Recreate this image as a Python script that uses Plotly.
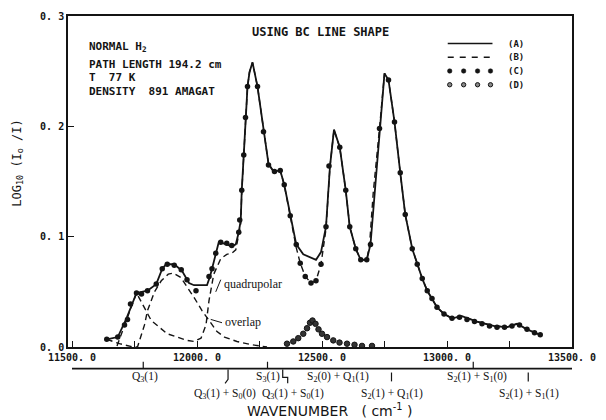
import plotly.graph_objects as go

# ---------------- data ----------------
wn_a = [11639, 11683, 11718, 11758, 11802, 11837, 11861, 11877, 11909, 11940, 11968, 11988,
        12040, 12052, 12067, 12087, 12119, 12139, 12155, 12167, 12175, 12179, 12187, 12194,
        12202, 12210, 12222, 12242, 12266, 12286, 12306, 12333, 12349, 12373, 12397, 12425,
        12476, 12496, 12516, 12532, 12548, 12571, 12595, 12611, 12635, 12655, 12679, 12694,
        12710, 12730, 12750, 12766, 12790, 12813, 12833, 12861, 12881, 12901, 12921, 12940,
        12960, 12988, 13020, 13060, 13120, 13190, 13240, 13280, 13320, 13373]
val_a = [0.007, 0.009, 0.026, 0.049, 0.051, 0.057, 0.071, 0.075, 0.075, 0.069, 0.058, 0.056,
         0.056, 0.064, 0.077, 0.095, 0.093, 0.091, 0.093, 0.104, 0.115, 0.142, 0.174, 0.208,
         0.236, 0.249, 0.258, 0.236, 0.195, 0.166, 0.159, 0.160, 0.147, 0.119, 0.093, 0.084,
         0.079, 0.086, 0.109, 0.164, 0.197, 0.181, 0.142, 0.109, 0.089, 0.079, 0.079, 0.093,
         0.137, 0.198, 0.248, 0.242, 0.204, 0.158, 0.120, 0.089, 0.075, 0.062, 0.051, 0.044,
         0.036, 0.030, 0.026, 0.028, 0.023, 0.019, 0.018, 0.021, 0.016, 0.011]

# (B) quadrupolar contribution
wn_b = [11680, 11718, 11758, 11817, 11881, 11960, 11988, 12016, 12036, 12048, 12067, 12095,
        12119, 12139, 12155, 12167, 12175, 12179, 12187, 12194, 12202, 12210, 12222, 12242,
        12266, 12286, 12306, 12333, 12349, 12373, 12397, 12413, 12433, 12456, 12476, 12496,
        12516, 12532, 12548, 12571, 12595, 12611, 12635, 12655, 12679, 12690, 12705, 12730,
        12750, 12766, 12790, 12813, 12833, 12861, 12881, 12901, 12921, 12940, 12960, 12988,
        13020, 13060, 13120, 13190, 13240, 13280, 13320, 13373]
val_b = [0.001, 0.024, 0.049, 0.024, 0.012, 0.006, 0.005, 0.008, 0.020, 0.042, 0.066, 0.080,
         0.084, 0.085, 0.088, 0.102, 0.112, 0.140, 0.174, 0.208, 0.236, 0.249, 0.258, 0.236,
         0.195, 0.166, 0.159, 0.160, 0.147, 0.119, 0.090, 0.076, 0.064, 0.058, 0.060, 0.075,
         0.107, 0.164, 0.197, 0.181, 0.142, 0.109, 0.089, 0.079, 0.079, 0.092, 0.140, 0.198,
         0.248, 0.242, 0.204, 0.158, 0.120, 0.089, 0.075, 0.062, 0.051, 0.044, 0.036, 0.030,
         0.026, 0.028, 0.023, 0.019, 0.018, 0.021, 0.016, 0.011]

# overlap contribution (dashed)
wn_o = [11639, 11690, 11745, 11762, 11790, 11802, 11830, 11857, 11885, 11905, 11935, 11965,
        11988, 12020, 12048, 12080, 12110, 12160, 12220, 12280]
val_o = [0.007, 0.003, 0.000, 0.000, 0.020, 0.033, 0.050, 0.060, 0.066, 0.067, 0.063, 0.053,
         0.045, 0.033, 0.024, 0.014, 0.009, 0.005, 0.002, 0.000]

# (C) filled points
wn_c = [11639, 11683, 11710, 11722, 11734, 11758, 11778, 11802, 11837, 11861, 11881, 11909,
        11937, 11960, 11996, 12048, 12060, 12075, 12095, 12119, 12139, 12167, 12171, 12179,
        12187, 12194, 12202, 12242, 12266, 12286, 12310, 12333, 12349, 12373, 12397, 12413,
        12433, 12456, 12476, 12496, 12516, 12528, 12571, 12595, 12611, 12635, 12655, 12679,
        12694, 12730, 12766, 12790, 12813, 12833, 12861, 12881, 12901, 12921, 12940, 12960,
        12988, 13020, 13050, 13080, 13110, 13140, 13170, 13200, 13230, 13260, 13290, 13320,
        13350, 13373]
val_c = [0.007, 0.009, 0.020, 0.025, 0.039, 0.049, 0.048, 0.051, 0.057, 0.071, 0.075, 0.074,
         0.070, 0.061, 0.051, 0.064, 0.071, 0.085, 0.095, 0.094, 0.092, 0.104, 0.115, 0.142,
         0.174, 0.208, 0.236, 0.236, 0.195, 0.165, 0.159, 0.160, 0.147, 0.119, 0.093, 0.076,
         0.064, 0.058, 0.060, 0.075, 0.109, 0.164, 0.181, 0.142, 0.109, 0.089, 0.079, 0.079,
         0.093, 0.198, 0.242, 0.204, 0.158, 0.120, 0.089, 0.075, 0.062, 0.051, 0.044, 0.036,
         0.030, 0.026, 0.027, 0.025, 0.023, 0.021, 0.019, 0.018, 0.018, 0.019, 0.020, 0.016,
         0.013, 0.011]

# (D) open points (small band near 12460)
wn_d = [12360, 12385, 12405, 12425, 12440, 12452, 12462, 12474, 12486, 12500, 12520, 12545,
        12570, 12600, 12630, 12660, 12700]
val_d = [0.003, 0.005, 0.008, 0.012, 0.017, 0.022, 0.024, 0.021, 0.016, 0.012, 0.009, 0.006,
         0.004, 0.003, 0.002, 0.001, 0.001]

y_ticks = [0.0, 0.1, 0.2, 0.3]
y_ticktext = ["0. 0", "0. 1", "0. 2", "0. 3"]
x_ticks = [11500, 11750, 12000, 12250, 12500, 12750, 13000, 13250, 13500]
x_ticktext = ["11500. 0", "", "12000. 0", "", "12500. 0", "", "13000. 0", "", "13500. 0"]

# transitions: (label, wavenumber of label, row)
trans_labels = [
    ("Q<sub>3</sub>(1)", 11790, 1),
    ("S<sub>3</sub>(1)", 12282, 1),
    ("S<sub>2</sub>(0) + Q<sub>1</sub>(1)", 12563, 1),
    ("S<sub>2</sub>(1) + S<sub>1</sub>(0)", 13119, 1),
    ("Q<sub>3</sub>(1) + S<sub>0</sub>(0)", 12110, 2),
    ("Q<sub>3</sub>(1) + S<sub>0</sub>(1)", 12385, 2),
    ("S<sub>2</sub>(1) + Q<sub>1</sub>(1)", 12778, 2),
    ("S<sub>2</sub>(1) + S<sub>1</sub>(1)", 13329, 2),
]
up_ticks = [11785, 12282, 13105]
down_ticks = [12778, 13325]

INK = "#141414"
PLOT_FONT = "DejaVu Sans Mono"
SANS = "DejaVu Sans"
SERIF = "Liberation Serif"

fig = go.Figure()
fig.add_trace(go.Scatter(x=wn_o, y=val_o, mode="lines",
                         line=dict(color=INK, width=1.4, dash="6px,4px"), showlegend=False))
fig.add_trace(go.Scatter(x=wn_b, y=val_b, mode="lines",
                         line=dict(color=INK, width=1.4, dash="6px,4px"), showlegend=False))
fig.add_trace(go.Scatter(x=wn_a, y=val_a, mode="lines",
                         line=dict(color=INK, width=1.8), showlegend=False))
fig.add_trace(go.Scatter(x=wn_c, y=val_c, mode="markers",
                         marker=dict(color=INK, size=5.5), showlegend=False))
fig.add_trace(go.Scatter(x=wn_d, y=val_d, mode="markers",
                         marker=dict(color="#333", size=5.5, line=dict(color=INK, width=1)),
                         showlegend=False))

L, R, T, B = 68, 31, 10, 73
W, H = 606, 420
PW, PH = W - L - R, H - T - B


def px(xp):
    return (xp - L) / PW


def py(yp):
    return (H - B - yp) / PH


ann = []
shapes = []

# header texts
info = [("NORMAL H<sub>2</sub>", 42), ("PATH LENGTH 194.2 cm", 59),
        ("T\u00a0\u00a077 K", 73), ("DENSITY\u00a0\u00a0891 AMAGAT", 87)]
for txt, yp in info:
    ann.append(dict(text=txt, x=px(87), y=py(yp), xref="paper", yref="paper",
                    xanchor="left", yanchor="middle", showarrow=False,
                    font=dict(family=PLOT_FONT, size=11, color=INK, weight="bold")))
ann.append(dict(text="USING BC LINE SHAPE", x=px(322), y=py(26), xref="paper", yref="paper",
                xanchor="center", yanchor="middle", showarrow=False,
                font=dict(family=PLOT_FONT, size=12, color=INK, weight="bold")))

# legend (drawn manually)
leg_rows = [("(A)", 38), ("(B)", 52), ("(C)", 66), ("(D)", 80)]
for lab, yp in leg_rows:
    ann.append(dict(text=lab, x=px(509), y=py(yp), xref="paper", yref="paper",
                    xanchor="left", yanchor="middle", showarrow=False,
                    font=dict(family=PLOT_FONT, size=9, color=INK, weight="bold")))
shapes.append(dict(type="line", xref="paper", yref="paper", x0=px(450), x1=px(495),
                   y0=py(38), y1=py(38), line=dict(color=INK, width=1.5)))
shapes.append(dict(type="line", xref="paper", yref="paper", x0=px(450), x1=px(496),
                   y0=py(52), y1=py(52), line=dict(color=INK, width=1.4, dash="6px,6px")))
for xd in [452, 466, 480, 493]:
    shapes.append(dict(type="circle", xref="paper", yref="paper",
                       x0=px(xd - 2.3), x1=px(xd + 2.3), y0=py(66 + 2.3), y1=py(66 - 2.3),
                       fillcolor=INK, line=dict(color=INK, width=0.5)))
    shapes.append(dict(type="circle", xref="paper", yref="paper",
                       x0=px(xd - 2.2), x1=px(xd + 2.2), y0=py(80 + 2.2), y1=py(80 - 2.2),
                       fillcolor="#888", line=dict(color=INK, width=1)))

# curve annotations
ann.append(dict(text="quadrupolar", x=12099, y=0.057, xref="x", yref="y", xanchor="left",
                yanchor="middle", showarrow=False, font=dict(family=SERIF, size=12, color=INK)))
shapes.append(dict(type="line", xref="x", yref="y", x0=12075, y0=0.050, x1=12095, y1=0.061,
                   line=dict(color=INK, width=1)))
ann.append(dict(text="overlap", x=12103, y=0.023, xref="x", yref="y", xanchor="left",
                yanchor="middle", showarrow=False, font=dict(family=SERIF, size=12, color=INK)))
shapes.append(dict(type="line", xref="x", yref="y", x0=12055, y0=0.025, x1=12100, y1=0.022,
                   line=dict(color=INK, width=1)))

# transition axis
y_line = py(369)
shapes.append(dict(type="line", xref="x", yref="paper", x0=11500, x1=13530, y0=y_line,
                   y1=y_line, line=dict(color=INK, width=1.6)))
for w in up_ticks:
    shapes.append(dict(type="line", xref="x", yref="paper", x0=w, x1=w, y0=y_line,
                       y1=py(362), line=dict(color=INK, width=1.2)))
for w in down_ticks:
    shapes.append(dict(type="line", xref="x", yref="paper", x0=w, x1=w, y0=py(373),
                       y1=py(382), line=dict(color=INK, width=1.2)))
# bracket for Q3(1)+S0(0)
shapes.append(dict(type="path", xref="paper", yref="paper",
                   path=f"M {px(229)} {py(370)} L {px(229)} {py(380)} L {px(226)} {py(384)}",
                   line=dict(color=INK, width=1.2)))
# bracket for Q3(1)+S0(1)
shapes.append(dict(type="path", xref="paper", yref="paper",
                   path=f"M {px(284)} {py(370)} L {px(284)} {py(378)} L {px(289)} {py(378)} L {px(289)} {py(384)}",
                   line=dict(color=INK, width=1.2)))
for txt, w, row in trans_labels:
    ann.append(dict(text=txt, x=w, y=py(378 if row == 1 else 395), xref="x", yref="paper",
                    xanchor="center", yanchor="middle", showarrow=False,
                    font=dict(family=SERIF, size=11.5, color=INK)))

ann.append(dict(text="WAVENUMBER\u00a0\u00a0\u00a0(\u00a0cm<sup>-1</sup>\u00a0)", x=px(331),
                y=py(411), xref="paper", yref="paper", xanchor="center", yanchor="middle",
                showarrow=False, font=dict(family=SANS, size=14, color=INK)))
ann.append(dict(text="LOG<sub>10</sub> (I<sub>o</sub> /I)", x=px(18), y=py(160),
                xref="paper", yref="paper", xanchor="center", yanchor="middle", textangle=-90,
                showarrow=False, font=dict(family=PLOT_FONT, size=12, color=INK)))

fig.update_layout(
    width=W, height=H, margin=dict(l=L, r=R, t=T, b=B),
    paper_bgcolor="white", plot_bgcolor="white",
    annotations=ann, shapes=shapes, showlegend=False,
    xaxis=dict(range=[11484, 13500], tickvals=x_ticks, ticktext=x_ticktext,
               ticks="inside", ticklen=6, tickwidth=1.2, tickcolor=INK,
               showline=True, linecolor=INK, linewidth=1.6, mirror=True,
               showgrid=False, zeroline=False,
               tickfont=dict(family=PLOT_FONT, size=10, color=INK, weight="bold")),
    yaxis=dict(range=[0, 0.3], tickvals=y_ticks, ticktext=y_ticktext,
               ticks="inside", ticklen=6, tickwidth=1.2, tickcolor=INK,
               showline=True, linecolor=INK, linewidth=1.6, mirror=True,
               showgrid=False, zeroline=False,
               tickfont=dict(family=PLOT_FONT, size=10, color=INK, weight="bold")),
)

fig.write_html("out.html", config={"displayModeBar": False},
               post_script="document.body.style.margin='0px';")
